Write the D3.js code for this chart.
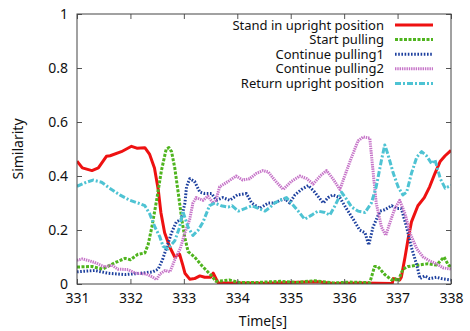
<!DOCTYPE html>
<html>
<head>
<meta charset="utf-8">
<script src="https://cdn.jsdelivr.net/npm/d3@7"></script>
<style>
  body { margin: 0; background: #fff; }
  svg text { font-family: "Noto Sans", "Open Sans", sans-serif; fill: #111; }
</style>
</head>
<body>
<svg id="chart" width="470" height="331"></svg>
<script>
// series, [time, similarity]
const standUpright = [[331.0,0.455],[331.1,0.43],[331.28,0.42],[331.4,0.43],[331.55,0.473],[331.62,0.475],[331.83,0.49],[332.02,0.51],[332.12,0.503],[332.27,0.505],[332.36,0.48],[332.45,0.43],[332.52,0.35],[332.57,0.265],[332.64,0.19],[332.74,0.135],[332.83,0.10],[332.92,0.11],[332.98,0.07],[333.02,0.04],[333.11,0.018],[333.2,0.02],[333.3,0.03],[333.39,0.025],[333.5,0.025],[333.55,0.04],[333.64,0.005],[334.0,0.004],[334.5,0.003],[335.0,0.006],[335.5,0.008],[335.8,0.002],[336.3,0.004],[336.9,0.002],[336.92,0.02],[337.04,0.015],[337.07,0.025],[337.14,0.10],[337.2,0.17],[337.26,0.23],[337.38,0.29],[337.5,0.32],[337.6,0.36],[337.7,0.41],[337.8,0.455],[337.89,0.475],[338.0,0.495]];
const startPulling = [[331.0,0.063],[331.28,0.065],[331.48,0.055],[331.7,0.078],[331.9,0.095],[332.0,0.09],[332.14,0.11],[332.27,0.115],[332.33,0.145],[332.4,0.21],[332.49,0.31],[332.58,0.42],[332.67,0.50],[332.72,0.505],[332.77,0.49],[332.83,0.43],[332.9,0.33],[332.96,0.24],[333.02,0.17],[333.08,0.12],[333.2,0.10],[333.35,0.065],[333.52,0.03],[333.6,0.01],[333.73,0.012],[333.85,0.015],[334.05,0.005],[334.4,0.006],[334.8,0.01],[335.1,0.006],[335.45,0.012],[335.8,0.004],[336.1,0.007],[336.48,0.005],[336.57,0.065],[336.63,0.065],[336.76,0.035],[336.89,0.015],[336.95,0.02],[337.01,0.01],[337.1,0.055],[337.2,0.065],[337.38,0.07],[337.57,0.075],[337.73,0.07],[337.87,0.10],[337.95,0.07],[338.0,0.065]];
const continuePulling1 = [[331.0,0.045],[331.33,0.05],[331.58,0.04],[331.9,0.035],[332.2,0.04],[332.42,0.045],[332.52,0.055],[332.6,0.09],[332.67,0.13],[332.77,0.19],[332.86,0.23],[332.95,0.24],[333.02,0.30],[333.05,0.36],[333.11,0.39],[333.2,0.38],[333.3,0.34],[333.39,0.335],[333.52,0.335],[333.61,0.31],[333.73,0.32],[333.86,0.31],[334.0,0.33],[334.17,0.335],[334.27,0.30],[334.42,0.28],[334.58,0.30],[334.7,0.30],[334.8,0.31],[334.9,0.315],[334.98,0.30],[335.08,0.33],[335.2,0.35],[335.33,0.365],[335.45,0.34],[335.61,0.30],[335.7,0.32],[335.79,0.33],[335.92,0.32],[336.04,0.28],[336.17,0.24],[336.29,0.20],[336.39,0.19],[336.46,0.145],[336.54,0.21],[336.67,0.27],[336.76,0.275],[336.89,0.29],[336.98,0.28],[337.07,0.28],[337.17,0.21],[337.26,0.135],[337.36,0.07],[337.42,0.02],[337.51,0.03],[337.6,0.02],[337.73,0.025],[337.82,0.02],[338.0,0.015]];
const continuePulling2 = [[331.0,0.088],[331.1,0.093],[331.33,0.08],[331.52,0.063],[331.65,0.07],[331.77,0.055],[331.96,0.053],[332.1,0.04],[332.3,0.037],[332.42,0.025],[332.49,0.016],[332.55,0.037],[332.65,0.05],[332.74,0.045],[332.83,0.09],[332.93,0.13],[333.02,0.19],[333.11,0.24],[333.17,0.30],[333.23,0.32],[333.36,0.31],[333.45,0.325],[333.55,0.30],[333.6,0.31],[333.67,0.36],[333.83,0.38],[333.98,0.40],[334.1,0.385],[334.23,0.39],[334.36,0.41],[334.48,0.42],[334.58,0.415],[334.7,0.385],[334.86,0.35],[335.01,0.38],[335.17,0.40],[335.3,0.39],[335.42,0.37],[335.55,0.40],[335.67,0.42],[335.79,0.39],[335.92,0.35],[336.01,0.40],[336.14,0.47],[336.26,0.53],[336.36,0.545],[336.48,0.54],[336.54,0.42],[336.6,0.30],[336.7,0.21],[336.78,0.18],[336.87,0.235],[336.95,0.28],[337.04,0.31],[337.14,0.26],[337.23,0.19],[337.36,0.13],[337.48,0.10],[337.6,0.085],[337.73,0.075],[337.85,0.06],[338.0,0.055]];
const returnUpright = [[331.0,0.362],[331.15,0.375],[331.3,0.385],[331.46,0.377],[331.61,0.355],[331.8,0.33],[331.99,0.31],[332.14,0.30],[332.27,0.29],[332.36,0.26],[332.46,0.21],[332.55,0.175],[332.61,0.14],[332.7,0.13],[332.83,0.16],[332.92,0.21],[332.98,0.27],[333.08,0.21],[333.17,0.18],[333.27,0.20],[333.36,0.23],[333.48,0.29],[333.58,0.30],[333.7,0.29],[333.83,0.285],[333.9,0.29],[334.02,0.27],[334.15,0.28],[334.27,0.29],[334.4,0.28],[334.52,0.27],[334.62,0.285],[334.7,0.30],[334.8,0.31],[334.92,0.32],[335.01,0.30],[335.14,0.27],[335.26,0.24],[335.39,0.255],[335.51,0.27],[335.64,0.265],[335.73,0.255],[335.83,0.29],[335.95,0.34],[336.04,0.315],[336.14,0.285],[336.26,0.27],[336.39,0.265],[336.51,0.30],[336.6,0.36],[336.7,0.46],[336.76,0.515],[336.82,0.48],[336.92,0.41],[337.01,0.36],[337.1,0.33],[337.17,0.34],[337.26,0.41],[337.36,0.47],[337.45,0.49],[337.54,0.475],[337.64,0.445],[337.7,0.46],[337.8,0.39],[337.89,0.355],[338.0,0.365]];

const seriesNames = ['Stand in upright position', 'Start pulling', 'Continue pulling1', 'Continue pulling2', 'Return upright position'];
const xTicks = [331, 332, 333, 334, 335, 336, 337, 338];
const yTicks = [0, 0.2, 0.4, 0.6, 0.8, 1];

const styles = [
  {color: '#ee1111', width: 3, dash: null},
  {color: '#4fb41e', width: 3, dash: '3,1.5'},
  {color: '#1c3f9e', width: 3, dash: '1.6,1.6'},
  {color: '#c674c8', width: 3, dash: '1.4,0.9'},
  {color: '#4ec3d3', width: 3, dash: '6,2,2,2'}
];
const allSeries = [standUpright, startPulling, continuePulling1, continuePulling2, returnUpright];

const svg = d3.select('#chart');
const margin = {left: 77, right: 19, top: 14, bottom: 47};
const W = 470 - margin.left - margin.right;
const H = 331 - margin.top - margin.bottom;

const x = d3.scaleLinear().domain([331, 338]).range([0, W]);
const y = d3.scaleLinear().domain([0, 1]).range([H, 0]);

const g = svg.append('g').attr('transform', `translate(${margin.left},${margin.top})`);

const clipId = 'plotclip';
g.append('clipPath').attr('id', clipId).append('rect')
  .attr('x', 0).attr('y', -3).attr('width', W).attr('height', H + 3);

const line = d3.line().x(d => x(d[0])).y(d => y(d[1]));

// lines drawn in legend order, red on top last? red drawn first in gnuplot
allSeries.forEach((s, i) => {
  g.append('path')
    .datum(s)
    .attr('clip-path', `url(#${clipId})`)
    .attr('fill', 'none')
    .attr('stroke', styles[i].color)
    .attr('stroke-width', styles[i].width)
    .attr('stroke-dasharray', styles[i].dash)
    .attr('stroke-linejoin', 'round')
    .attr('d', line);
});

// frame with inward ticks on all sides
const tickLen = 5;
const bottomAxis = d3.axisBottom(x).tickValues(xTicks).tickSizeInner(-tickLen).tickSizeOuter(0).tickPadding(9).tickFormat(d3.format('d'));
const topAxis = d3.axisTop(x).tickValues(xTicks).tickSizeInner(-tickLen).tickSizeOuter(0).tickFormat('');
const leftAxis = d3.axisLeft(y).tickValues(yTicks).tickSizeInner(-tickLen).tickSizeOuter(0).tickPadding(9).tickFormat(d => d === 0 || d === 1 ? d3.format('d')(d) : d3.format('.1f')(d));
const rightAxis = d3.axisRight(y).tickValues(yTicks).tickSizeInner(-tickLen).tickSizeOuter(0).tickFormat('');

const axisStyle = sel => {
  sel.select('.domain').remove();
  sel.selectAll('line').attr('stroke', '#555').attr('stroke-width', 1);
  sel.selectAll('text').style('font-size', '14px').attr('fill', '#111');
};

g.append('g').attr('transform', `translate(0,${H})`).call(bottomAxis).call(axisStyle);
g.append('g').call(topAxis).call(axisStyle);
g.append('g').call(leftAxis).call(axisStyle);
g.append('g').attr('transform', `translate(${W},0)`).call(rightAxis).call(axisStyle);

g.append('rect')
  .attr('x', 0).attr('y', 0).attr('width', W).attr('height', H)
  .attr('fill', 'none').attr('stroke', '#444').attr('stroke-width', 1);

// axis titles
svg.append('text')
  .attr('x', margin.left + W / 2 - 1).attr('y', 326)
  .attr('text-anchor', 'middle')
  .style('font-size', '14px')
  .text('Time[s]');

svg.append('text')
  .attr('transform', `translate(23,${margin.top + H / 2}) rotate(-90)`)
  .attr('text-anchor', 'middle')
  .style('font-size', '14px')
  .text('Similarity');

// legend
const legend = svg.append('g');
seriesNames.forEach((name, i) => {
  const ly = 25 + i * 14.6;
  legend.append('text')
    .attr('x', 384).attr('y', ly).attr('dy', '0.35em')
    .attr('text-anchor', 'end')
    .style('font-size', '13px')
    .text(name);
  legend.append('line')
    .attr('x1', 395).attr('x2', 433).attr('y1', ly).attr('y2', ly)
    .attr('stroke', styles[i].color)
    .attr('stroke-width', styles[i].width)
    .attr('stroke-dasharray', styles[i].dash);
});
</script>
</body>
</html>
